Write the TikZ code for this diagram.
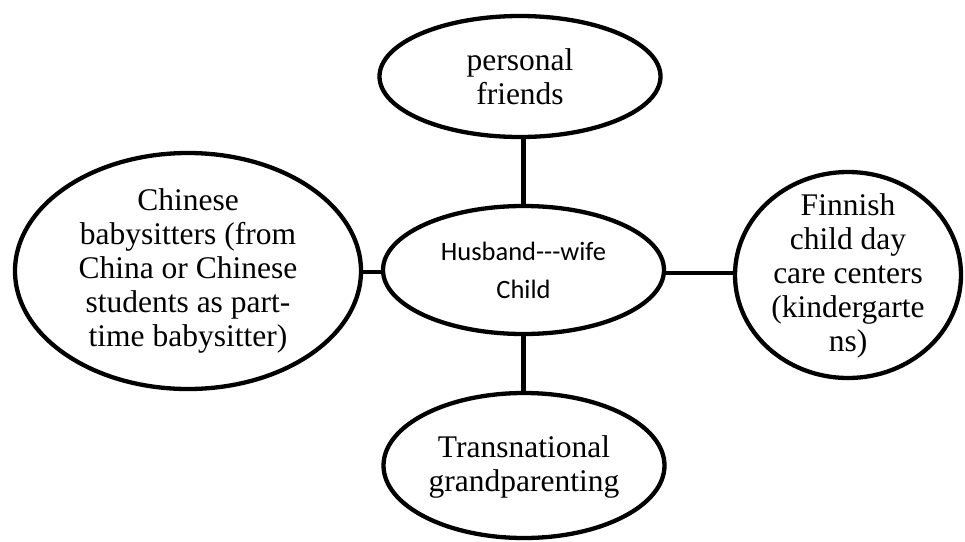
\documentclass[tikz,border=0pt]{standalone}
\usepackage{fontspec}
\setmainfont{Liberation Serif}
\newfontfamily\famfont{Carlito}
\usepackage{tikz}
\usetikzlibrary{shapes,positioning,calc}

\begin{document}
\begin{tikzpicture}[x=1pt, y=-1pt,
    bubble/.style={draw, ellipse, line width=4.3pt, inner sep=0pt},
    txt/.style={align=center, font=\fontsize{31.5}{34}\selectfont},
    link/.style={line width=4.3pt}]
    \useasboundingbox (0,0) rectangle (965,541);
    % ellipses
    \node[bubble, minimum width=281, minimum height=121] (friends) at (520,76.5) {};
    \node[bubble, minimum width=281, minimum height=128] (family) at (523.5,270) {};
    \node[bubble, minimum width=346, minimum height=236] (sitters) at (188,271) {};
    \node[bubble, minimum width=226, minimum height=206] (daycare) at (848,275) {};
    \node[bubble, minimum width=281, minimum height=145] (grand) at (524,465.5) {};
    % texts
    \node[txt] at (friends) {personal\\friends};
    \node[align=center, font=\famfont\fontsize{26.5}{38}\selectfont] at (family) {Husband---wife\\Child};
    \node[txt] at (sitters) {Chinese\\babysitters (from\\China or Chinese\\students as part-\\time babysitter)};
    \node[txt] at ($(daycare)+(0,0.5)$) {Finnish\\child day\\care centers\\(kindergarte\\ns)};
    \node[txt] at ($(grand)+(0,1)$) {Transnational\\grandparenting};
    % connectors
    \draw[link] (family.north) -- (family.north |- friends.south);
    \draw[link] (family.south) -- (family.south |- grand.north);
    \draw[link] ($(family.west)+(0,2)$) -- (sitters.east |- {$(family.west)+(0,2)$});
    \draw[link] ($(family.east)+(0,3)$) -- (daycare.west |- {$(family.east)+(0,3)$});
\end{tikzpicture}
\end{document}
